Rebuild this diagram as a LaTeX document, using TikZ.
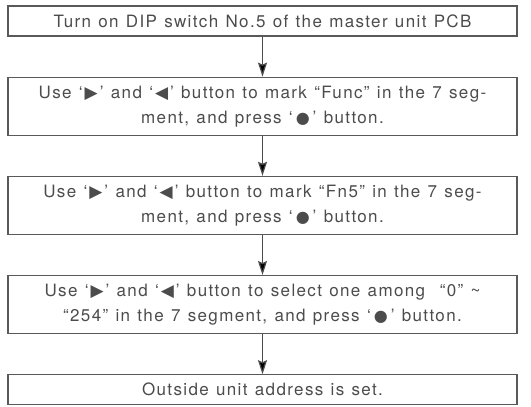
\documentclass[tikz,border=0pt]{standalone}
\usepackage{fontspec}
\setmainfont{TeX Gyre Heros}[LetterSpace=8,WordSpace=1.2]
\newfontfamily\symfont{DejaVu Sans}
\usepackage{tikz}
\usetikzlibrary{arrows.meta,positioning}

\newcommand{\rbtn}{\kern2pt{\symfont\fontsize{17}{17}\selectfont ▶}\kern2pt}
\newcommand{\lbtn}{\kern2pt{\symfont\fontsize{17}{17}\selectfont ◀}\kern2pt}
\newcommand{\sbtn}{\kern3pt{\symfont\fontsize{16}{16}\selectfont ●}\kern3pt}

\begin{document}
\begin{tikzpicture}[->,>={Stealth[length=14pt,width=9pt,inset=2pt]},auto,node distance=40pt,
		line width=1.2pt,
		step node/.style={rectangle,draw=black!65,line width=1.2pt,minimum width=509pt,
			align=center,inner sep=2pt,text=black!70,font=\fontsize{17}{25}\selectfont}]

		\useasboundingbox (0,0) rectangle (531pt,-407pt);

		\node[step node,minimum height=30pt] (1) at (262.5pt,-21pt) {Turn on DIP switch No.5 of the master unit PCB};
		\node[step node,minimum height=58pt] (2) [below=of 1] {Use ‘\rbtn’ and ‘\lbtn’ button to mark “Func” in the 7 seg-\\ment, and press ‘\sbtn’ button.};
		\node[step node,minimum height=58pt] (3) [below=of 2] {Use ‘\rbtn’ and ‘\lbtn’ button to mark “Fn5” in the 7 seg-\\ment, and press ‘\sbtn’ button.};
		\node[step node,minimum height=58pt] (4) [below=of 3] {Use ‘\rbtn’ and ‘\lbtn’ button to select one among~ “0” \textasciitilde\\“254” in the 7 segment, and press ‘\sbtn’ button.};
		\node[step node,minimum height=30pt] (5) [below=of 4] {Outside unit address is set.};

		\path[draw=black!70]
		(1) edge (2)
		(2) edge (3)
		(3) edge (4)
		(4) edge (5);
	\end{tikzpicture}
\end{document}
